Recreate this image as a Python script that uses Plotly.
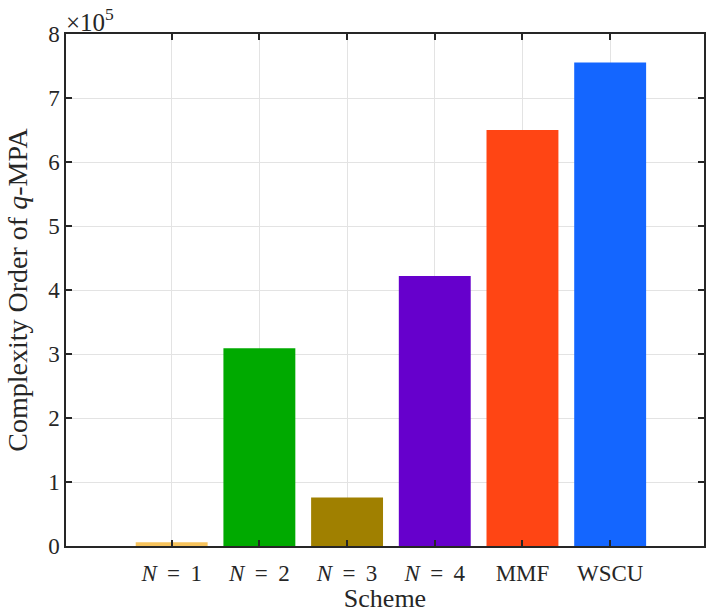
import plotly.graph_objects as go

categories = ["<i>N</i> \u2009=\u2009 1", "<i>N</i> \u2009=\u2009 2", "<i>N</i> \u2009=\u2009 3",
              "<i>N</i> \u2009=\u2009 4", "MMF", "WSCU"]
values = [0.058, 3.09, 0.757, 4.22, 6.50, 7.555]  # x 10^5
colors = ["#F7C35C", "#00AA00", "#A08000", "#6600CC", "#FF4514", "#1466FF"]
yticks = [0, 1, 2, 3, 4, 5, 6, 7, 8]

FONT = "Liberation Serif, DejaVu Serif, serif"
AX = "#262626"

fig = go.Figure()
fig.add_trace(go.Bar(
    x=list(range(len(categories))), y=values,
    marker=dict(color=colors, line=dict(width=0)),
    width=0.82,
))

fig.update_layout(
    width=707, height=613,
    margin=dict(l=66, r=1, t=34, b=67),
    paper_bgcolor="white", plot_bgcolor="white",
    showlegend=False,
    font=dict(family=FONT, size=23, color=AX),
    xaxis=dict(
        range=[-1.205, 6.07],
        tickmode="array", tickvals=list(range(len(categories))), ticktext=categories,
        ticks="inside", ticklen=6, tickwidth=1.5, tickcolor=AX,
        showline=True, linecolor=AX, linewidth=1.5, mirror="ticks",
        showgrid=True, gridcolor="#E3E3E3", gridwidth=1.3,
        zeroline=False,
        ticklabelstandoff=6,
        title=dict(text="Scheme", standoff=5, font=dict(size=26)),
        tickfont=dict(size=23),
    ),
    yaxis=dict(
        range=[0, 8],
        tickmode="array", tickvals=yticks, ticktext=[str(v) for v in yticks],
        ticks="inside", ticklen=6, tickwidth=1.5, tickcolor=AX,
        showline=True, linecolor=AX, linewidth=1.5, mirror="ticks",
        showgrid=True, gridcolor="#E3E3E3", gridwidth=1.3,
        zeroline=False,
        title=dict(text="Complexity Order of <i>q</i>-MPA", standoff=12, font=dict(size=28)),
        tickfont=dict(size=23),
    ),
    annotations=[dict(
        x=0, y=1, xref="paper", yref="paper", xanchor="left", yanchor="bottom",
        text="×10<sup>5</sup>", showarrow=False, font=dict(size=25, family=FONT, color=AX),
        xshift=-2, yshift=-4,
    )],
)

fig.write_html("out.html")
